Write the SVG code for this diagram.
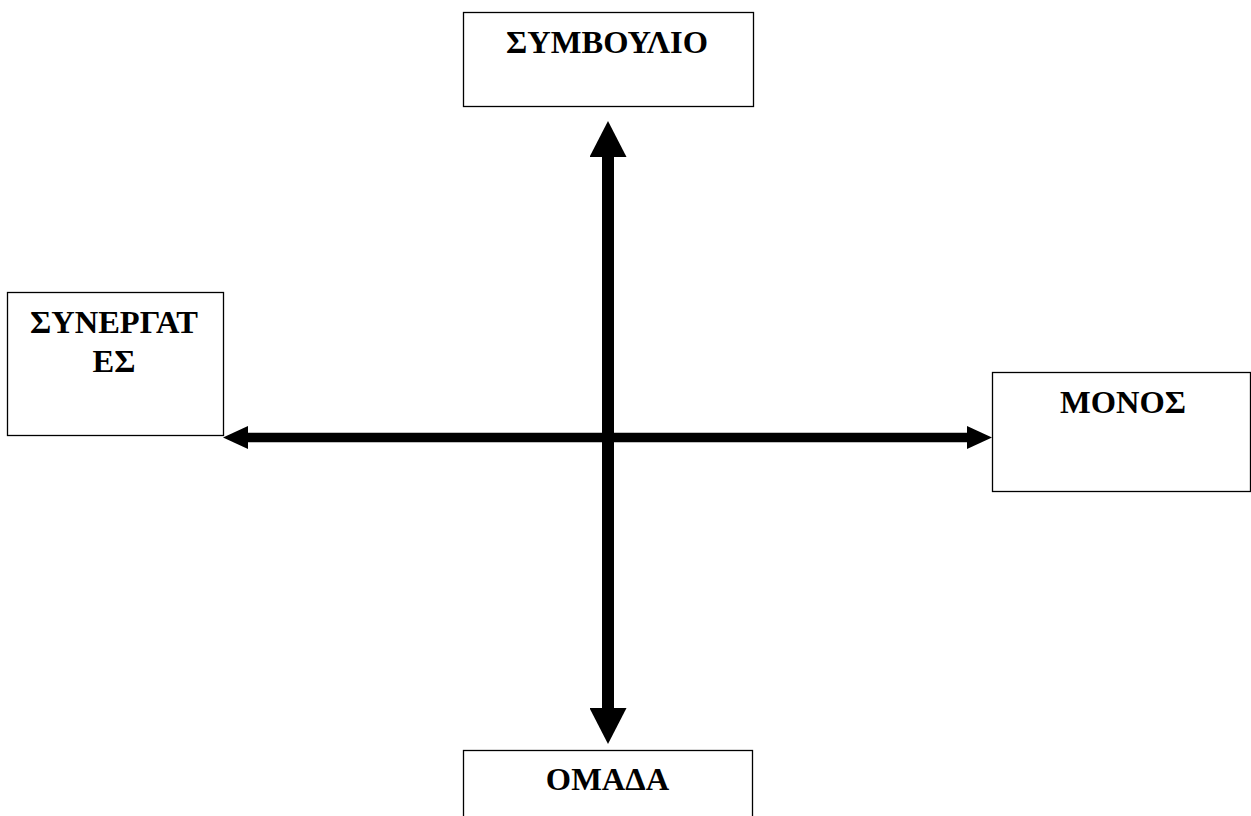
<svg xmlns="http://www.w3.org/2000/svg" width="1251" height="816" viewBox="0 0 1251 816">
<style>
.box{fill:#fff;stroke:#000;stroke-width:1.3}
.lbl{font-family:"Liberation Serif","DejaVu Serif",serif;font-weight:bold;font-size:32.5px;fill:#000;text-anchor:middle}
.ax{stroke:#000;fill:none}
</style>
<defs>
<marker id="headV" viewBox="0 0 36 37" markerWidth="36" markerHeight="37" refX="0" refY="18.5" markerUnits="userSpaceOnUse" orient="auto-start-reverse">
<path d="M0,0 L36,18.5 L0,37 z" fill="#000"/>
</marker>
<marker id="headH" viewBox="0 0 25 23" markerWidth="25" markerHeight="23" refX="0" refY="11.5" markerUnits="userSpaceOnUse" orient="auto-start-reverse">
<path d="M0,0 L25,11.5 L0,23 z" fill="#000"/>
</marker>
</defs>
<rect width="1251" height="816" fill="#fff"/>
<g id="connectors">
<line class="ax" x1="608" y1="157" x2="608" y2="708" stroke-width="12" marker-start="url(#headV)" marker-end="url(#headV)"/>
<line class="ax" x1="248" y1="437.5" x2="967" y2="437.5" stroke-width="9.5" marker-start="url(#headH)" marker-end="url(#headH)"/>
</g>
<g id="symvoulio">
<rect class="box" x="463.5" y="12.5" width="290" height="94"/>
<text class="lbl" x="607" y="53">ΣΥΜΒΟΥΛΙΟ</text>
</g>
<g id="synergates">
<rect class="box" x="7.5" y="292.5" width="216" height="143"/>
<text class="lbl" x="114" y="333">ΣΥΝΕΡΓΑΤ</text>
<text class="lbl" x="114" y="372">ΕΣ</text>
</g>
<g id="monos">
<rect class="box" x="992.5" y="372.5" width="258" height="119"/>
<text class="lbl" x="1123" y="413">ΜΟΝΟΣ</text>
</g>
<g id="omada">
<rect class="box" x="463.5" y="750.5" width="289" height="80"/>
<text class="lbl" x="607.5" y="790">ΟΜΑΔΑ</text>
</g>
</svg>
